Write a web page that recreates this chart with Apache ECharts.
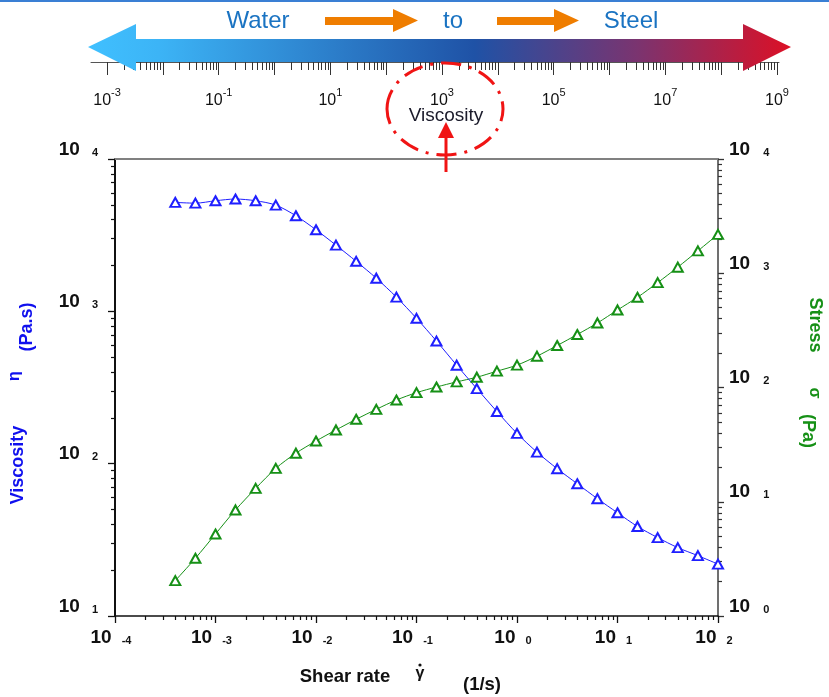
<!DOCTYPE html>
<html>
<head>
<meta charset="utf-8">
<title>Viscosity and stress vs shear rate</title>
<script src="https://cdn.jsdelivr.net/npm/echarts@6/dist/echarts.min.js"></script>
<style>
  html, body { margin: 0; padding: 0; background: #fff; }
  #main { width: 829px; height: 697px; }
</style>
</head>
<body>
<div id="main"></div>
<script>
// shear rate (1/s)
const shearRate = [3.98e-4, 6.31e-4, 1.0e-3, 1.58e-3, 2.51e-3, 3.98e-3, 6.31e-3, 1.0e-2, 1.58e-2, 2.51e-2,
  3.98e-2, 6.31e-2, 0.1, 0.158, 0.251, 0.398, 0.631, 1.0, 1.58, 2.51, 3.98, 6.31, 10, 15.8, 25.1, 39.8, 63.1, 100];
// viscosity eta (Pa.s), left axis
const viscosity = [5190, 5130, 5320, 5460, 5320, 4980, 4240, 3430, 2720, 2130, 1650, 1240, 900, 638, 443,
  311, 220, 158, 119, 92.7, 73.8, 58.9, 47.6, 38.7, 32.7, 28.1, 24.9, 21.9];
// stress sigma (Pa), right axis
const stress = [2.04, 3.20, 5.22, 8.47, 13.1, 19.6, 26.6, 34.0, 42.5, 52.7, 64.4, 77.7, 90.1, 101, 112,
  123, 139, 157, 188, 233, 291, 367, 477, 616, 827, 1130, 1570, 2190];

// tick exponents
const xExp = [-4, -3, -2, -1, 0, 1, 2];
const leftExp = [1, 2, 3, 4];
const rightExp = [0, 1, 2, 3, 4];
const scaleExp = [-3, -2, -1, 0, 1, 2, 3, 4, 5, 6, 7, 8, 9];   // water-to-steel scale
const scaleLabelExp = [-3, -1, 1, 3, 5, 7, 9];

const FONT = 'Liberation Sans, Arial, sans-serif';
const BLUE = '#1f1fff';
const GREEN = '#169016';

// minor ticks (2..9) of a decade scale, in log10 units
function minors(from, to) {
  const out = [];
  for (let n = from; n < to; n++) {
    for (let k = 2; k <= 9; k++) out.push(n + Math.log10(k));
  }
  return out;
}

const chart = echarts.init(document.getElementById('main'));

function expRich(lh, gap, right) {
  return {
    b: { fontSize: 19, fontWeight: 'bold', fontFamily: FONT, color: '#111', lineHeight: lh, verticalAlign: 'bottom' },
    s: { fontSize: 11, fontWeight: 'bold', fontFamily: FONT, color: '#111', lineHeight: lh, verticalAlign: 'bottom', padding: [0, right, 1, gap] }
  };
}
const expFmt = v => '{b|10}{s|' + Math.round(v) + '}';

const noLine = { show: false, onZero: false };

let option = {
  animation: false,
  backgroundColor: '#fff',
  grid: [
    { left: 115, right: 111, top: 159, bottom: 81 },
    { left: 91, right: 50, top: 61, height: 1 }
  ],
  xAxis: [
    { // data axis
      type: 'log', logBase: 10, min: 1e-4, max: 100, show: false, gridIndex: 0
    },
    {
      type: 'value', min: -4, max: 2, interval: 1, position: 'bottom', gridIndex: 0,
      axisLine: { show: true, onZero: false, lineStyle: { color: '#111', width: 1.5 } },
      axisTick: { show: true, length: 7, lineStyle: { color: '#111', width: 1.3 } },
      axisLabel: { margin: 11, formatter: expFmt, rich: expRich(20, 10, 8) },
      splitLine: { show: false }
    },
    {
      type: 'value', min: -4, max: 2, position: 'bottom', gridIndex: 0,
      axisLine: noLine,
      axisTick: { show: true, length: 4, customValues: minors(-4, 2), lineStyle: { color: '#111', width: 1.2 } },
      axisLabel: { show: false }, splitLine: { show: false }
    },
    {
      type: 'value', min: -4, max: 2, position: 'top', gridIndex: 0,
      axisLine: { show: true, onZero: false, lineStyle: { color: '#808080', width: 2 } },
      axisTick: { show: false }, axisLabel: { show: false }, splitLine: { show: false }
    },
    { // water-to-steel scale
      type: 'value', min: -3.287, max: 9.036, position: 'bottom', gridIndex: 1,
      axisLine: { show: true, onZero: false, lineStyle: { color: '#555', width: 1 } },
      axisTick: { show: true, length: 13, customValues: scaleExp, lineStyle: { color: '#333', width: 1 } },
      axisLabel: {
        margin: 25, customValues: scaleLabelExp,
        formatter: v => '{b|10}{t|' + Math.round(v) + '}',
        rich: {
          b: { fontSize: 16, fontFamily: FONT, color: '#111', lineHeight: 22, verticalAlign: 'bottom' },
          t: { fontSize: 11, fontFamily: FONT, color: '#111', lineHeight: 22, verticalAlign: 'top' }
        }
      },
      splitLine: { show: false }
    },
    {
      type: 'value', min: -3.287, max: 9.036, position: 'bottom', gridIndex: 1,
      axisLine: noLine,
      axisTick: { show: true, length: 8, customValues: minors(-3, 9), lineStyle: { color: '#333', width: 1 } },
      axisLabel: { show: false }, splitLine: { show: false }
    }
  ],
  yAxis: [
    { type: 'log', logBase: 10, min: 10, max: 1e4, show: false, gridIndex: 0 },
    { type: 'log', logBase: 10, min: 1, max: 1e4, show: false, gridIndex: 0 },
    {
      type: 'value', min: 1, max: 4, interval: 1, position: 'left', gridIndex: 0,
      axisLine: { show: true, onZero: false, lineStyle: { color: '#111', width: 2 } },
      axisTick: { show: true, length: 7, lineStyle: { color: '#111', width: 1.3 } },
      axisLabel: { margin: 17, verticalAlign: 'bottom', formatter: expFmt, rich: expRich(15, 12, 0) },
      splitLine: { show: false }
    },
    {
      type: 'value', min: 1, max: 4, position: 'left', gridIndex: 0,
      axisLine: noLine,
      axisTick: { show: true, length: 4, customValues: minors(1, 4), lineStyle: { color: '#111', width: 1.2 } },
      axisLabel: { show: false }, splitLine: { show: false }
    },
    {
      type: 'value', min: 0, max: 4, interval: 1, position: 'right', gridIndex: 0,
      axisLine: { show: true, onZero: false, lineStyle: { color: '#707070', width: 2 } },
      axisTick: { show: true, length: 6, lineStyle: { color: '#333', width: 1.3 } },
      axisLabel: { margin: 11, verticalAlign: 'bottom', formatter: expFmt, rich: expRich(15, 13, 0) },
      splitLine: { show: false }
    },
    {
      type: 'value', min: 0, max: 4, position: 'right', gridIndex: 0,
      axisLine: noLine,
      axisTick: { show: true, length: 4, customValues: minors(0, 4), lineStyle: { color: '#333', width: 1.2 } },
      axisLabel: { show: false }, splitLine: { show: false }
    },
    { type: 'value', gridIndex: 1, show: false }
  ],
  series: [
    {
      name: 'Stress', type: 'line', xAxisIndex: 0, yAxisIndex: 1,
      data: shearRate.map((x, i) => [x, stress[i]]),
      smooth: 0.3, symbol: 'emptyTriangle', symbolSize: [10, 9],
      lineStyle: { color: GREEN, width: 1 },
      itemStyle: { color: GREEN, borderColor: GREEN, borderWidth: 1.2 }
    },
    {
      name: 'Viscosity', type: 'line', xAxisIndex: 0, yAxisIndex: 0,
      data: shearRate.map((x, i) => [x, viscosity[i]]),
      smooth: 0.3, symbol: 'emptyTriangle', symbolSize: [10, 9],
      lineStyle: { color: BLUE, width: 1 },
      itemStyle: { color: BLUE, borderColor: BLUE, borderWidth: 1.2 }
    }
  ],
  graphic: [
    // thin blue rule at the very top
    { type: 'rect', shape: { x: 0, y: 0, width: 829, height: 2 }, style: { fill: '#3a7fd4' } },
    // water-to-steel double arrow
    {
      type: 'polygon', z: 10,
      shape: { points: [[88, 47], [136, 24], [136, 39], [743, 39], [743, 24], [791, 47], [743, 71], [743, 62], [136, 62], [136, 71]] },
      style: {
        fill: {
          type: 'linear', x: 0, y: 0, x2: 1, y2: 0,
          colorStops: [
            { offset: 0, color: '#40c0ff' },
            { offset: 0.1, color: '#3cb4f6' },
            { offset: 0.55, color: '#1f52a6' },
            { offset: 0.78, color: '#7a3470' },
            { offset: 1, color: '#dc1026' }
          ]
        }
      }
    },
    // orange arrows
    { type: 'polygon', shape: { points: [[325, 17], [393, 17], [393, 9], [418, 20.5], [393, 32], [393, 25], [325, 25]] }, style: { fill: '#ef7d00' } },
    { type: 'polygon', shape: { points: [[497, 17], [554, 17], [554, 9], [579, 20.5], [554, 32], [554, 25], [497, 25]] }, style: { fill: '#ef7d00' } },
    { type: 'text', x: 258, y: 21, style: { text: 'Water', fontSize: 24, fontFamily: FONT, fill: '#1a73c2', align: 'center', verticalAlign: 'middle' } },
    { type: 'text', x: 453, y: 21, style: { text: 'to', fontSize: 24, fontFamily: FONT, fill: '#1a73c2', align: 'center', verticalAlign: 'middle' } },
    { type: 'text', x: 631, y: 21, style: { text: 'Steel', fontSize: 24, fontFamily: FONT, fill: '#1a73c2', align: 'center', verticalAlign: 'middle' } },
    // dashed ellipse + Viscosity marker
    { type: 'ellipse', z: 20, shape: { cx: 445, cy: 109, rx: 58, ry: 46 }, style: { fill: 'none', stroke: '#f01414', lineWidth: 3, lineDash: [20, 8, 3, 8] } },
    { type: 'text', z: 20, x: 446, y: 116, style: { text: 'Viscosity', fontSize: 19, fontFamily: FONT, fill: '#1a1a2a', align: 'center', verticalAlign: 'middle' } },
    { type: 'line', z: 20, shape: { x1: 446, y1: 172, x2: 446, y2: 134 }, style: { stroke: '#f01414', lineWidth: 3 } },
    { type: 'polygon', z: 20, shape: { points: [[446, 122], [454, 138], [438, 138]] }, style: { fill: '#f01414' } },
    // axis names
    { type: 'text', x: 18, y: 465, rotation: Math.PI / 2, style: { text: 'Viscosity', fontSize: 18, fontWeight: 'bold', fontFamily: FONT, fill: '#1010ee', align: 'center', verticalAlign: 'middle' } },
    { type: 'text', x: 15, y: 376, rotation: Math.PI / 2, style: { text: 'η', fontSize: 16, fontWeight: 'bold', fontFamily: FONT, fill: '#1010ee', align: 'center', verticalAlign: 'middle' } },
    { type: 'text', x: 27, y: 327, rotation: Math.PI / 2, style: { text: '(Pa.s)', fontSize: 18, fontWeight: 'bold', fontFamily: FONT, fill: '#1010ee', align: 'center', verticalAlign: 'middle' } },
    { type: 'text', x: 815, y: 325, rotation: -Math.PI / 2, style: { text: 'Stress', fontSize: 18, fontWeight: 'bold', fontFamily: FONT, fill: GREEN, align: 'center', verticalAlign: 'middle' } },
    { type: 'text', x: 814, y: 393, rotation: -Math.PI / 2, style: { text: 'σ', fontSize: 16, fontWeight: 'bold', fontFamily: FONT, fill: GREEN, align: 'center', verticalAlign: 'middle' } },
    { type: 'text', x: 808, y: 431, rotation: -Math.PI / 2, style: { text: '(Pa)', fontSize: 18, fontWeight: 'bold', fontFamily: FONT, fill: GREEN, align: 'center', verticalAlign: 'middle' } },
    { type: 'text', x: 345, y: 677, style: { text: 'Shear rate', fontSize: 18.5, fontWeight: 'bold', fontFamily: FONT, fill: '#111', align: 'center', verticalAlign: 'middle' } },
    { type: 'text', x: 420, y: 674, style: { text: 'γ', fontSize: 16, fontWeight: 'bold', fontFamily: FONT, fill: '#111', align: 'center', verticalAlign: 'middle' } },
    { type: 'circle', shape: { cx: 420, cy: 665, r: 1.6 }, style: { fill: '#111' } },
    { type: 'text', x: 482, y: 685, style: { text: '(1/s)', fontSize: 18.5, fontWeight: 'bold', fontFamily: FONT, fill: '#111', align: 'center', verticalAlign: 'middle' } }
  ]
};

chart.setOption(option);
</script>
</body>
</html>
